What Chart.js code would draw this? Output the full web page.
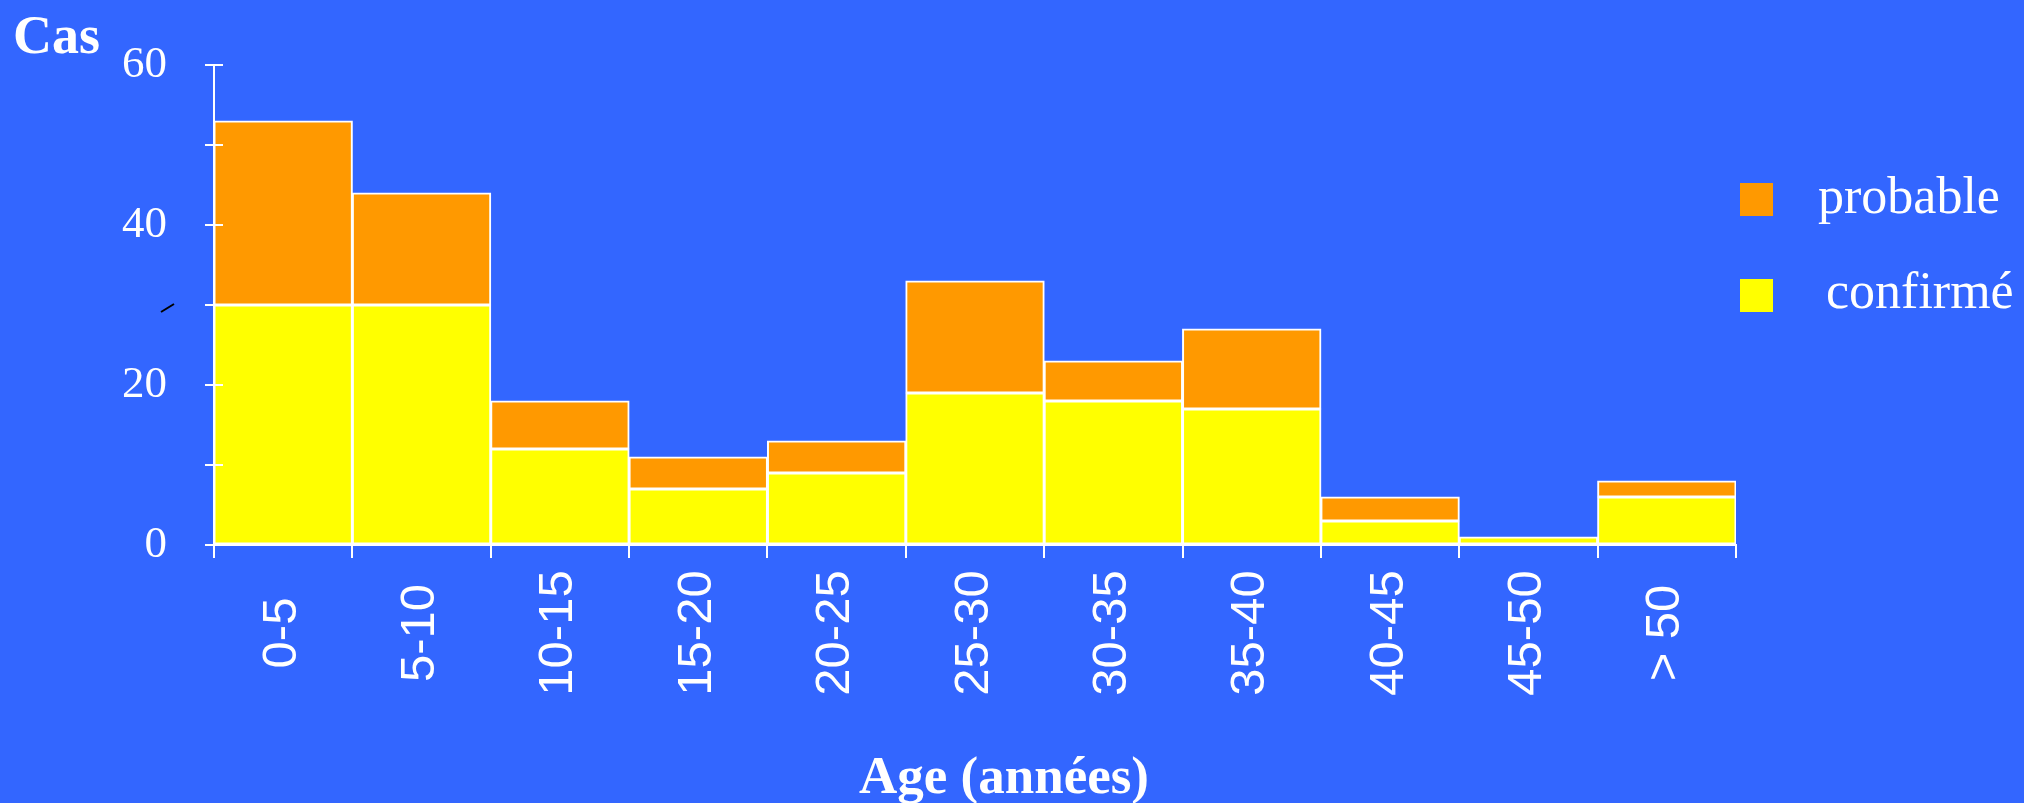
<!DOCTYPE html>
<html>
<head>
<meta charset="utf-8">
<script src="https://cdn.jsdelivr.net/npm/chart.js@4.4.1/dist/chart.umd.min.js"></script>
<style>
html,body{margin:0;padding:0;background:#3366FF;}
</style>
</head>
<body>
<canvas id="chart" width="2024" height="803"></canvas>
<script>
// tranches d'age
const ageGroups=['0-5','5-10','10-15','15-20','20-25','25-30','30-35','35-40','40-45','45-50','> 50'];
const confirmed=[30,30,12,7,9,19,18,17,3,1,6];
const probable=[23,14,6,4,4,14,5,10,3,0,2];
const yLabels=[0,20,40,60];

const bg='#3366FF';
const orange='#FF9900';
const yellow='#FFFF00';

const extras={
    id:'extras',
    beforeDraw:(chart)=>{
        const c=chart.ctx;
        c.save();
        c.fillStyle=bg;
        c.fillRect(0,0,chart.width,chart.height);
        c.restore();
    },
    afterDraw:(chart)=>{
        const c=chart.ctx;
        const xs=chart.scales.x, ys=chart.scales.y;
        c.save();
        // petits traits de l'axe y par dessus les barres
        c.strokeStyle='#fff';
        c.lineWidth=2;
        ys.ticks.forEach((t)=>{
            const py=ys.getPixelForValue(t.value);
            c.beginPath();
            c.moveTo(xs.left,py);
            c.lineTo(xs.left+9,py);
            c.stroke();
        });
        // etiquettes de l'axe x, verticales et centrees
        c.fillStyle='#fff';
        c.font='49px "Liberation Sans"';
        c.textAlign='center';
        c.textBaseline='middle';
        ageGroups.forEach((lab,i)=>{
            c.save();
            c.translate(xs.getPixelForValue(i)-1,633);
            c.rotate(-Math.PI/2);
            c.fillText(lab,0,0);
            c.restore();
        });
        c.textBaseline='alphabetic';
        c.font='bold 54px "Liberation Serif"';
        c.textAlign='left';
        c.fillText('Cas',13,53);
        c.textAlign='center';
        c.font='bold 53px "Liberation Serif"';
        c.fillText('Age (années)',1004,793);
        // legende
        const items=[chart.data.datasets[1],chart.data.datasets[0]];
        const rows=[{y:183,tx:1818,ty:213},{y:279,tx:1826,ty:308}];
        c.textAlign='left';
        c.font='52px "Liberation Serif"';
        items.forEach((ds,i)=>{
            c.fillStyle=ds.backgroundColor;
            c.fillRect(1740,rows[i].y,33,33);
            c.fillStyle='#fff';
            c.fillText(ds.label,rows[i].tx,rows[i].ty);
        });
        // petit trait noir
        c.strokeStyle='#000';
        c.lineWidth=2;
        c.beginPath();
        c.moveTo(161,312);
        c.lineTo(174,304);
        c.stroke();
        c.restore();
    }
};

new Chart(document.getElementById('chart'),{
    type:'bar',
    data:{
        labels:ageGroups,
        datasets:[{
            label:'confirmé',
            data:confirmed,
            backgroundColor:yellow,
            borderColor:'#fff',
            borderWidth:2,
            inflateAmount:0.5,
            borderSkipped:false,
            categoryPercentage:1,
            barPercentage:1
        },{
            label:'probable',
            data:probable,
            backgroundColor:orange,
            borderColor:'#fff',
            borderWidth:2,
            inflateAmount:0.5,
            borderSkipped:false,
            categoryPercentage:1,
            barPercentage:1
        }]
    },
    options:{
        responsive:false,
        animation:false,
        devicePixelRatio:1,
        layout:{padding:{top:65,right:288,left:0,bottom:0}},
        plugins:{legend:{display:false},tooltip:{enabled:false}},
        scales:{
            x:{
                stacked:true,
                offset:true,
                grid:{offset:true,drawOnChartArea:false,drawTicks:true,tickLength:13,color:'#fff',lineWidth:2},
                border:{color:'#fff',width:2},
                ticks:{display:false,autoSkip:false},
                afterFit:(s)=>{s.height=258;}
            },
            y:{
                stacked:true,
                min:0,
                max:60,
                ticks:{
                    stepSize:10,
                    color:'#fff',
                    font:{family:'Liberation Serif',size:45},
                    padding:38,
                    callback:(v)=>yLabels.includes(v)?v:''
                },
                grid:{drawOnChartArea:false,tickLength:9,color:'#fff',lineWidth:2},
                border:{color:'#fff',width:2},
                afterFit:(s)=>{s.width=214;}
            }
        }
    },
    plugins:[extras]
});
</script>
</body>
</html>
